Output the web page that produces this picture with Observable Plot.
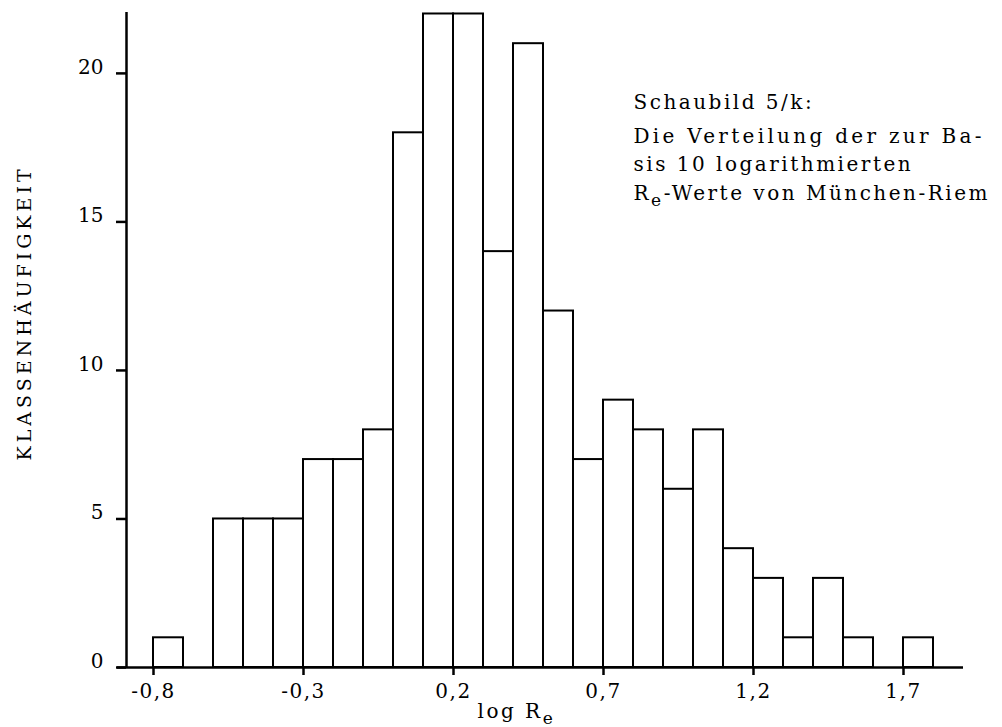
<!DOCTYPE html>
<html>
<head>
<meta charset="utf-8">
<script src="https://cdn.jsdelivr.net/npm/d3@7"></script>
<script src="https://cdn.jsdelivr.net/npm/@observablehq/plot@0.6"></script>
<style>
  html, body { margin: 0; padding: 0; background: #fff; }
  #chart svg { display: block; }
  #chart g[aria-label="text"] text { letter-spacing: 2.5px; }
  #chart g[aria-label="y-axis tick label"] text { letter-spacing: 0px; }
  #chart g[aria-label="x-axis tick label"] text { letter-spacing: 1.5px; }
</style>
</head>
<body>
<div id="chart"></div>
<script>
// ---- data ----
const binStart = [-0.8, -0.7, -0.6, -0.5, -0.4, -0.3, -0.2, -0.1, 0.0, 0.1, 0.2, 0.3, 0.4,
                  0.5, 0.6, 0.7, 0.8, 0.9, 1.0, 1.1, 1.2, 1.3, 1.4, 1.5, 1.6, 1.7];
const binEnd   = [-0.7, -0.6, -0.5, -0.4, -0.3, -0.2, -0.1, 0.0, 0.1, 0.2, 0.3, 0.4, 0.5,
                  0.6, 0.7, 0.8, 0.9, 1.0, 1.1, 1.2, 1.3, 1.4, 1.5, 1.6, 1.7, 1.8];
const counts   = [1, 0, 5, 5, 5, 7, 7, 8, 18, 22, 22, 14, 21,
                  12, 7, 9, 8, 6, 8, 4, 3, 1, 3, 1, 0, 1];

const xTicks = [-0.8, -0.3, 0.2, 0.7, 1.2, 1.7];
const yTicks = [0, 5, 10, 15, 20];
const xDomain = [-0.89, 1.9];
const yDomain = [0, 22.05];

const xLabel = "log R_e";
const yLabel = "KLASSENHÄUFIGKEIT";
const titleText = "Schaubild 5/k:";
const noteLines = ["Die Verteilung der zur Ba-", "sis 10 logarithmierten", "R_e-Werte von München-Riem"];

const bins = binStart.map((s, i) => ({x1: s, x2: binEnd[i], count: counts[i]})).filter(d => d.count > 0);
const fmt = d => d.toFixed(1).replace(".", ",");

const chart = Plot.plot({
  width: 1002,
  height: 727,
  marginLeft: 126,
  marginRight: 39,
  marginTop: 12,
  marginBottom: 60,
  style: {fontFamily: "'DejaVu Serif', serif", fontSize: "20px", color: "#000", background: "#fff"},
  x: {domain: xDomain},
  y: {domain: yDomain},
  marks: [
    Plot.rectY(bins, {x1: "x1", x2: "x2", y: "count", fill: "#fff", stroke: "#000", strokeWidth: 2}),
    Plot.ruleY([0], {stroke: "#000", strokeWidth: 2.5, insetLeft: -9}),
    Plot.ruleX([xDomain[0]], {stroke: "#000", strokeWidth: 2.5}),
    // y ticks (no labels)
    Plot.axisY({ticks: yTicks, tickSize: 10, strokeWidth: 2.5, label: null, tickFormat: () => ""}),
    // y tick labels, slightly raised as in the original
    Plot.axisY({ticks: yTicks, tickSize: 0, tickPadding: 23, fontSize: 20, dy: -6, label: null, tickFormat: d => String(d)}),
    Plot.axisX({ticks: xTicks, tickSize: 8, tickPadding: 8, strokeWidth: 2.5, fontSize: 20, label: null, tickFormat: fmt}),
    Plot.text([xLabel], {frameAnchor: "bottom-left", textAnchor: "start", lineAnchor: "bottom", dx: 351, dy: 50, fontSize: 20}),
    Plot.text([yLabel], {frameAnchor: "left", rotate: -90, textAnchor: "middle", lineAnchor: "middle", dx: -102, dy: -27, fontSize: 19}),
    Plot.text([titleText], {frameAnchor: "top-left", textAnchor: "start", lineAnchor: "bottom", dx: 507, dy: 96, fontSize: 20}),
    Plot.text([noteLines.join("\n")], {frameAnchor: "top-left", textAnchor: "start", lineAnchor: "bottom", dx: 507, dy: 187, fontSize: 20, lineHeight: 28.5 / 20})
  ]
});

// subscript "e" for R_e
(function subscriptize(svg) {
  const walker = document.createTreeWalker(svg, NodeFilter.SHOW_TEXT);
  const nodes = [];
  while (walker.nextNode()) if (walker.currentNode.nodeValue.includes("_e")) nodes.push(walker.currentNode);
  const NS = "http://www.w3.org/2000/svg";
  for (const node of nodes) {
    const idx = node.nodeValue.indexOf("_e");
    const a = node.nodeValue.slice(0, idx), b = node.nodeValue.slice(idx + 2);
    const frag = document.createDocumentFragment();
    frag.appendChild(document.createTextNode(a));
    const sub = document.createElementNS(NS, "tspan");
    sub.setAttribute("dy", "6");
    sub.setAttribute("font-size", "17");
    sub.textContent = "e";
    frag.appendChild(sub);
    if (b) {
      const rest = document.createElementNS(NS, "tspan");
      rest.setAttribute("dy", "-6");
      rest.textContent = b;
      frag.appendChild(rest);
    }
    node.parentNode.replaceChild(frag, node);
  }
})(chart);

// wider spacing for the rotated y label and the first note line
d3.select(chart).selectAll("text").each(function () {
  if (this.textContent === yLabel) this.style.letterSpacing = "4px";
});
d3.select(chart).selectAll("tspan").each(function () {
  if (this.textContent === noteLines[0]) this.style.letterSpacing = "3.3px";
});

document.getElementById("chart").appendChild(chart);
</script>
</body>
</html>
